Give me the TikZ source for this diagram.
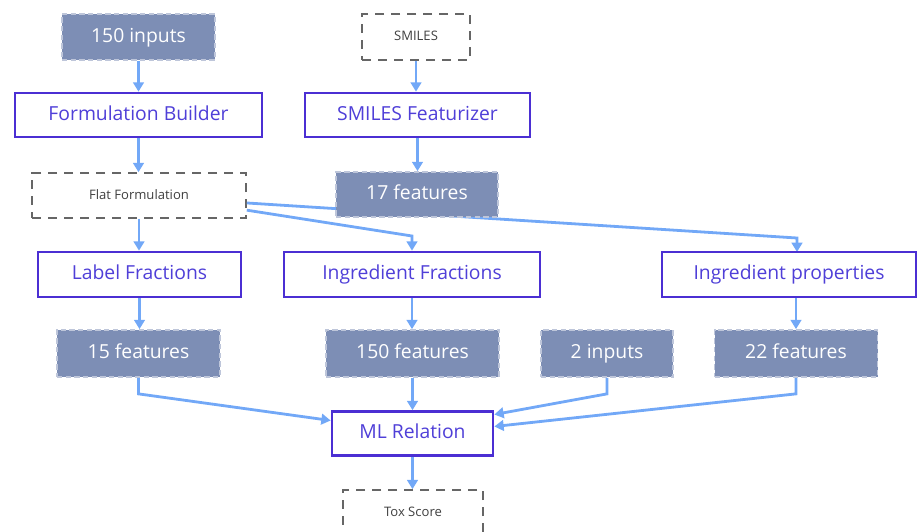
\documentclass[tikz,border=0pt]{standalone}
\usepackage{fontspec}
\setmainfont{Open Sans}
\usetikzlibrary{arrows.meta,positioning}
\definecolor{feat}{HTML}{7D8EB5}
\definecolor{stage}{HTML}{4B2FD3}
\definecolor{stagetxt}{HTML}{4F3FD8}
\definecolor{flow}{HTML}{72A8F7}
\definecolor{dashgray}{HTML}{666666}
\tikzset{
  stagebox/.style={rectangle, draw=stage, line width=2pt, fill=white, text=stagetxt,
                   minimum height=33pt, inner sep=0pt, text height=10.5pt, text depth=2.5pt,
                   font=\fontsize{14.5}{17}\selectfont},
  featbox/.style={rectangle, draw=white!50!feat, line width=1.3pt, dash pattern=on 4pt off 2.5pt,
                  fill=feat, text=white, minimum height=34.5pt, inner sep=0pt,
                  text height=10.5pt, text depth=2.5pt, font=\fontsize{14.5}{17}\selectfont},
  databox/.style={rectangle, draw=dashgray, line width=1.2pt, dash pattern=on 7pt off 5pt,
                  fill=white, text=black!75, minimum height=34.5pt, inner sep=0pt,
                  text height=7pt, text depth=1.5pt, font=\fontsize{9.8}{12}\selectfont},
  ar/.style={-{Triangle[length=7pt,width=8pt]}, line width=2.1pt, draw=flow},
}

\begin{document}
\begin{tikzpicture}[x=0.75pt,y=-0.75pt]
\useasboundingbox (0,0) rectangle (918,532);

% ===================== inputs =====================
\node[featbox, minimum width=114.75pt] (IN150) at (138.5,37) {150 inputs};
\node[databox, minimum width=81pt] (SMI) at (416,37) {SMILES};

% ===================== builders =====================
\node[stagebox, minimum width=185.25pt] (FB) at (138.5,115) {Formulation Builder};
\node[stagebox, minimum width=168.75pt] (SF) at (417.5,115) {SMILES Featurizer};
\draw[ar] (IN150.south) -- (IN150.south |- FB.north);
\draw[ar] (SMI.south) -- (SMI.south |- SF.north);

\node[databox, minimum width=160.5pt, minimum height=33.75pt] (FF) at (139,195.5) {Flat Formulation};
\draw[ar] (FB.south) -- (FB.south |- FF.north);

% flat formulation -> ingredient properties (runs behind 17 features)
\coordinate (kIP) at (797,238);
\draw[ar] ([yshift=-5.6pt]FF.east) -- (kIP) -- (kIP |- 0,252);

\node[featbox, minimum width=121.5pt, minimum height=33.75pt] (F17) at (417,194.5) {17 features};
\draw[ar] (SF.south) -- (SF.south |- F17.north);

% ===================== fractions / properties =====================
\node[stagebox, minimum width=152.25pt, minimum height=33.75pt] (LF) at (139.5,274.5) {Label Fractions};
\node[stagebox, minimum width=192pt, minimum height=33.75pt] (IF) at (412,274.5) {Ingredient Fractions};
\node[stagebox, minimum width=190.5pt, minimum height=33.75pt] (IP) at (789,274.5) {Ingredient properties};

\coordinate (kIF) at (412,236);
\draw[ar] (FF.south) -- (FF.south |- LF.north);
\draw[ar] ([yshift=-11pt]FF.east) -- (kIF) -- (kIF |- IF.north);

% ===================== features =====================
\node[featbox, minimum width=122.25pt, minimum height=35.25pt] (F15) at (138.5,353.5) {15 features};
\node[featbox, minimum width=129.75pt, minimum height=35.25pt] (F150) at (412.5,353.5) {150 features};
\node[featbox, minimum width=99pt, minimum height=35.25pt] (IN2) at (607,353.5) {2 inputs};
\node[featbox, minimum width=122.25pt, minimum height=35.25pt] (F22) at (796,353.5) {22 features};

\draw[ar] (LF.south) -- (LF.south |- F15.north);
\draw[ar] (IF.south) -- (IF.south |- F150.north);
\draw[ar] (F22.north |- IP.south) -- (F22.north);

% ===================== model =====================
\node[stagebox, minimum width=120.75pt] (ML) at (412.5,433.5) {ML Relation};
\node[databox, minimum width=105pt] (TOX) at (413,513) {Tox Score};

\draw[ar] (F15.south) -- ++(0,16) -- ([yshift=9.75pt]ML.west);
\draw[ar] (F150.south) -- (F150.south |- ML.north);
\draw[ar] (IN2.south) -- ++(0,16) -- ([yshift=14.25pt]ML.east);
\draw[ar] (F22.south) -- ++(0,16) -- ([yshift=5.25pt]ML.east);
\draw[ar] (ML.south) -- (ML.south |- TOX.north);

\end{tikzpicture}
\end{document}
